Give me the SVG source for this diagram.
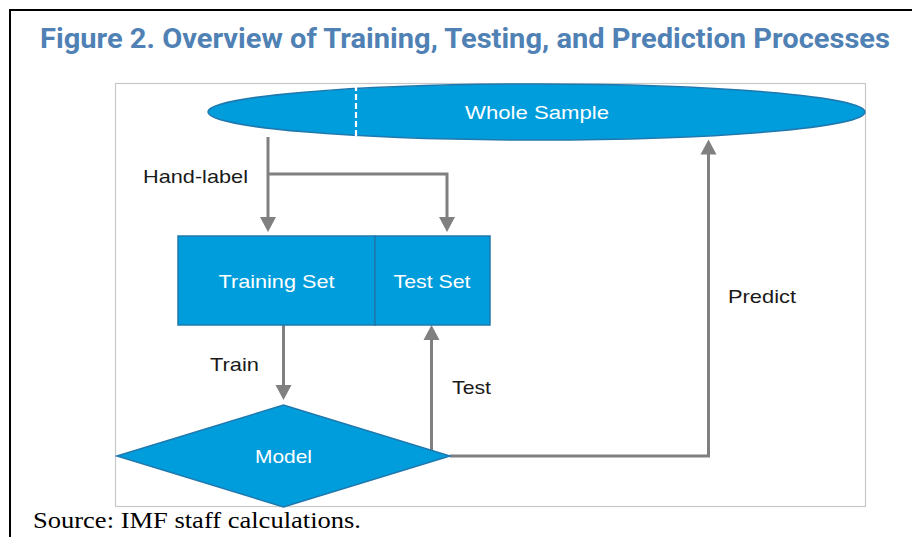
<svg xmlns="http://www.w3.org/2000/svg" width="912" height="537" viewBox="0 0 912 537">
  <style>
    .shape { fill: #009ddc; stroke: #1f78ae; stroke-width: 1.5; }
    .inner { font-family: "Liberation Sans", Arial, sans-serif; font-size: 19px; fill: #ffffff; text-anchor: middle; }
    .label { font-family: "Liberation Sans", Arial, sans-serif; font-size: 19px; fill: #1a1a1a; }
    .wire { fill: none; stroke: #808080; stroke-width: 3; }
    .head { fill: #808080; }
  </style>

  <rect width="912" height="537" fill="#ffffff"/>

  <!-- page frame -->
  <path d="M10 537 V10 H912" fill="none" stroke="#000000" stroke-width="2"/>

  <!-- figure title -->
  <text x="40" y="48" textLength="850" lengthAdjust="spacingAndGlyphs"
        font-family="Roboto, 'Liberation Sans', sans-serif" font-weight="bold" font-size="27" fill="#4f81b4">Figure 2. Overview of Training, Testing, and Prediction Processes</text>

  <!-- chart area -->
  <rect x="115.5" y="83.5" width="750" height="423" fill="#ffffff" stroke="#c8c8c8" stroke-width="1.2"/>

  <!-- connectors -->
  <g id="connectors">
    <!-- hand-label split -->
    <path class="wire" d="M268 137 V220"/>
    <path class="wire" d="M268 174 H447 V220"/>
    <polygon class="head" points="260,217 276,217 268,232"/>
    <polygon class="head" points="439,217 455,217 447,232"/>
    <!-- train -->
    <path class="wire" d="M283.5 325 V388"/>
    <polygon class="head" points="275.5,385 291.5,385 283.5,400"/>
    <!-- test -->
    <path class="wire" d="M431.5 450 V338"/>
    <polygon class="head" points="423.5,340 439.5,340 431.5,325"/>
    <!-- predict -->
    <path class="wire" d="M450 456 H708.5 V152"/>
    <polygon class="head" points="700.5,154.5 716.5,154.5 708.5,139.5"/>
  </g>

  <!-- whole sample -->
  <g id="whole-sample">
    <ellipse class="shape" cx="536.5" cy="112" rx="328.5" ry="28"/>
    <line x1="356" y1="85" x2="356" y2="136" stroke="#ffffff" stroke-width="2.2" stroke-dasharray="6 3"/>
    <text class="inner" x="537" y="119" textLength="144" lengthAdjust="spacingAndGlyphs">Whole Sample</text>
  </g>

  <!-- training / test split -->
  <g id="training-set">
    <rect class="shape" x="178" y="236" width="197" height="89"/>
    <text class="inner" x="276.5" y="288" textLength="116" lengthAdjust="spacingAndGlyphs">Training Set</text>
  </g>
  <g id="test-set">
    <rect class="shape" x="375" y="236" width="115" height="89"/>
    <text class="inner" x="432" y="288" textLength="77" lengthAdjust="spacingAndGlyphs">Test Set</text>
  </g>

  <!-- model -->
  <g id="model">
    <polygon class="shape" points="117,456 283.5,405 450,456 283.5,507"/>
    <text class="inner" x="283.5" y="463" textLength="57" lengthAdjust="spacingAndGlyphs">Model</text>
  </g>

  <!-- edge labels -->
  <g id="edge-labels">
    <text class="label" x="143" y="183" textLength="105" lengthAdjust="spacingAndGlyphs">Hand-label</text>
    <text class="label" x="210" y="371" textLength="49" lengthAdjust="spacingAndGlyphs">Train</text>
    <text class="label" x="452" y="394" textLength="39" lengthAdjust="spacingAndGlyphs">Test</text>
    <text class="label" x="728" y="303" textLength="68" lengthAdjust="spacingAndGlyphs">Predict</text>
  </g>

  <!-- source note -->
  <text x="33" y="528" textLength="328" lengthAdjust="spacingAndGlyphs"
        font-family="'Liberation Serif', 'Times New Roman', serif" font-size="24" fill="#000000">Source: IMF staff calculations.</text>
</svg>
